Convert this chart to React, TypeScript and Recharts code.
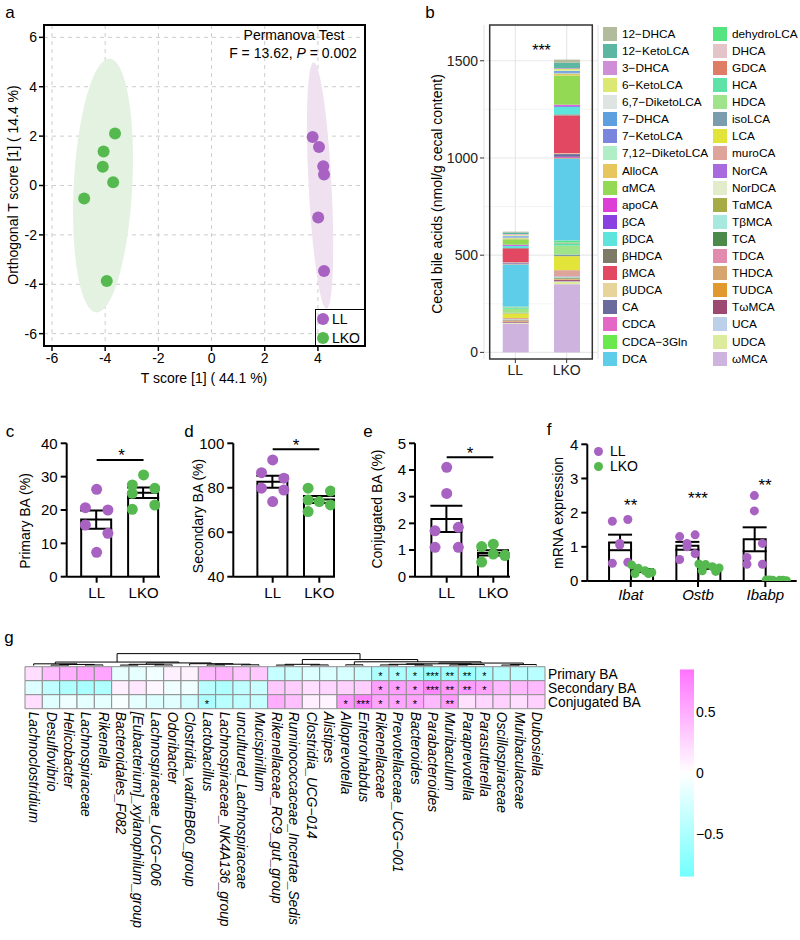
import React from "react";
import {
  Bar,
  BarChart,
  CartesianGrid,
  ComposedChart,
  ErrorBar,
  ReferenceArea,
  ReferenceLine,
  Scatter,
  ScatterChart,
  XAxis,
  YAxis,
} from "recharts";

const FONT = "Arial, 'Liberation Sans', Helvetica, sans-serif";
const LL_COLOR = "#a862c1";
const LKO_COLOR = "#55b94f";

const groups = ["LL", "LKO"];

// a: OPLS-DA scores
const llTScore = [3.8, 4.04, 4.2, 4.23, 4.01, 4.23];
const llOrthoScore = [1.96, 1.56, 0.78, 0.45, -1.3, -3.46];
const lkoTScore = [-3.63, -4.06, -4.09, -3.7, -4.79, -3.94];
const lkoOrthoScore = [2.11, 1.38, 0.76, 0.13, -0.53, -3.87];
const ellipseCenterT = [4.08, -4.08];
const ellipseCenterO = [0, 0];
const ellipseHalfT = [0.43, 1.1];
const ellipseHalfO = [5.0, 5.15];
const ellipseTilt = [-3, 3];
const ellipseFill = ["#efe1f0", "#e4f2e1"];
const scoreTTicks = [-6, -4, -2, 0, 2, 4];
const scoreOTicks = [-6, -4, -2, 0, 2, 4, 6];

// b: cecal bile acids (legend order)
const bileAcids = [
  "12-DHCA", "12-KetoLCA", "3-DHCA", "6-KetoLCA", "6,7-DiketoLCA", "7-DHCA", "7-KetoLCA",
  "7,12-DiketoLCA", "AlloCA", "αMCA", "apoCA", "βCA", "βDCA", "βHDCA", "βMCA", "βUDCA", "CA",
  "CDCA", "CDCA-3Gln", "DCA", "dehydroLCA", "DHCA", "GDCA", "HCA", "HDCA", "isoLCA", "LCA",
  "muroCA", "NorCA", "NorDCA", "TαMCA", "TβMCA", "TCA", "TDCA", "THDCA", "TUDCA", "TωMCA",
  "UCA", "UDCA", "ωMCA",
];
const baColors = [
  "#b2bb9b", "#5bb7a1", "#cf8fd6", "#dbe871", "#dde4e1", "#5e9fe0", "#7a86de", "#afeec7",
  "#e7c65d", "#93d954", "#dd3fd6", "#8a3fe0", "#5de5dd", "#7d7b67", "#e24862", "#e6d49a",
  "#6b6a9c", "#e466c5", "#69e94b", "#5ecde9", "#55e47f", "#e2c4c9", "#de7c66", "#5fe2a7",
  "#9fe38b", "#7b9cac", "#e3e43a", "#dea39b", "#a96ae0", "#e2ecca", "#a7ab45", "#a7e9df",
  "#4b8a4a", "#e18cae", "#d6a46f", "#e0982f", "#9c4a72", "#bcd0ea", "#dcec9c", "#cdb3dd",
];
const llBileAcids = [
  4, 8, 3, 5, 3, 4, 3, 4, 5, 28, 4, 3, 10, 3, 70, 2, 5, 4, 2, 215,
  4, 1, 1, 6, 20, 3, 24, 5, 1, 1, 1, 2, 2, 2, 3, 2, 5, 2, 3, 148,
];
const lkoBileAcids = [
  16, 28, 4, 8, 3, 6, 5, 4, 8, 150, 5, 5, 40, 5, 195, 4, 14, 8, 3, 420,
  10, 2, 2, 12, 46, 8, 72, 30, 2, 2, 2, 3, 4, 2, 3, 3, 6, 3, 12, 351,
];

// c-e: bile acid proportions (%)
const primaryLL = [26.2, 20.7, 20.0, 15.5, 13.0, 7.3];
const primaryLKO = [30.5, 27.5, 26.5, 25.0, 20.2, 21.5];
const primaryJitterLL = [0, -0.24, 0.24, -0.24, 0.24, 0];
const primaryJitterLKO = [0, -0.24, 0.24, -0.24, -0.24, 0.24];
const secondaryLL = [92.5, 86.8, 84.3, 79.8, 79.0, 73.8];
const secondaryLKO = [79.8, 78.5, 74.5, 73.8, 72.3, 69.3];
const secondaryJitterLL = [0, -0.24, 0.24, -0.24, 0.24, 0];
const secondaryJitterLKO = [-0.24, 0.24, -0.24, 0, 0.24, -0.24];
const conjugatedLL = [4.1, 3.12, 1.85, 1.72, 1.1, 1.1];
const conjugatedLKO = [1.22, 1.13, 0.85, 0.8, 0.55, 0.8];
const conjugatedJitterLL = [0, 0, 0.25, -0.25, -0.25, 0.25];
const conjugatedJitterLKO = [0, -0.25, 0, 0.25, -0.25, 0.25];

// f: mRNA expression
const genes = ["Ibat", "Ostb", "Ibabp"];
const ibatLL = [1.75, 1.8, 0.52, 0.55, 1.05, 1.1];
const ibatLKO = [0.47, 0.37, 0.3, 0.25, 0.22, 0.22];
const ostbLL = [1.3, 1.35, 0.63, 0.8, 1.1, 1.0];
const ostbLKO = [0.5, 0.48, 0.42, 0.38, 0.3, 0.28];
const ibabpLL = [0.69, 1.1, 0.49, 0.49, 2.5, 2.05];
const ibabpLKO = [0.03, 0.02, 0.02, 0.01, 0.03, 0.02];
const mrnaJitterLL = [-0.11, 0.12, -0.11, 0.12, 0, 0];
const mrnaJitterLKO = [-0.15, -0.05, 0.05, 0.15, -0.1, 0.1];
const mrnaStars = ["**", "***", "**"];

// g: correlation heatmap
const genera = [
  "Lachnoclostridium", "Desulfovibrio", "Helicobacter", "Lachnospiraceae", "Rikenella",
  "Bacteroidales_F082", "[Eubacterium]_xylanophilum_group", "Lachnospiraceae_UCG−006",
  "Odoribacter", "Clostridia_vadinBB60_group", "Lactobacillus", "Lachnospiraceae_NK4A136_group",
  "uncultured_Lachnospiraceae", "Mucispirillum", "Rikenellaceae_RC9_gut_group",
  "Ruminococcaceae_Incertae_Sedis", "Clostridia_UCG−014", "Alistipes", "Alloprevotella",
  "Enterorhabdus", "Rikenellaceae", "Prevotellaceae_UCG−001", "Bacteroides", "Parabacteroides",
  "Muribaculum", "Paraprevotella", "Parasutterella", "Oscillospiraceae", "Muribaculaceae",
  "Dubosiella",
];
const baTypes = ["Primary BA", "Secondary BA", "Conjugated BA"];
const primaryCorr = [
  0.2, 0.4, 0.48, 0.55, 0.55, -0.14, -0.15, -0.08, 0.09, 0.08, 0.42, 0.46, 0.35, 0.33, -0.35,
  -0.3, -0.2, -0.22, -0.25, -0.3, -0.5, -0.5, -0.52, -0.68, -0.6, -0.6, -0.52, -0.45, -0.42, -0.42,
];
const secondaryCorr = [
  -0.2, -0.38, -0.48, -0.52, -0.48, 0.1, 0.14, 0.05, -0.1, -0.1, -0.42, -0.48, -0.38, -0.33, 0.33,
  0.3, 0.2, 0.25, 0.28, 0.3, 0.58, 0.58, 0.58, 0.72, 0.62, 0.6, 0.55, 0.42, 0.42, 0.42,
];
const conjugatedCorr = [
  0.2, -0.18, -0.1, -0.15, -0.15, -0.04, -0.15, -0.2, -0.18, -0.28, -0.5, -0.42, -0.38, -0.35, 0.5,
  0.38, 0.1, 0.07, 0.62, 0.75, 0.55, 0.55, 0.55, 0.42, 0.6, 0.18, 0.25, 0.28, 0.2, 0.28,
];
const primaryStars = [
  "", "", "", "", "", "", "", "", "", "", "", "", "", "", "", "", "", "", "", "",
  "*", "*", "*", "***", "**", "**", "*", "", "", "",
];
const secondaryStars = primaryStars;
const conjugatedStars = [
  "", "", "", "", "", "", "", "", "", "", "*", "", "", "", "", "", "", "", "*", "***",
  "*", "*", "*", "", "**", "", "", "", "", "",
];
// column dendrogram, hclust style: < 30 is a column, >= 30 is merge (n - 30)
const mergeA = [1, 3, 30, 0, 5, 7, 34, 10, 12, 37, 9, 36, 33, 14, 16, 43, 18, 20, 22, 47, 24, 50, 49, 27, 53, 52, 46, 45, 42];
const mergeB = [2, 4, 31, 32, 6, 8, 35, 11, 13, 38, 39, 40, 41, 15, 17, 44, 19, 21, 23, 48, 25, 26, 51, 28, 29, 54, 55, 56, 57];
const mergeHeight = [
  0.04, 0.05, 0.09, 0.14, 0.04, 0.05, 0.1, 0.05, 0.06, 0.11, 0.15, 0.21, 0.28, 0.04, 0.05,
  0.1, 0.06, 0.05, 0.04, 0.1, 0.05, 0.08, 0.14, 0.04, 0.08, 0.2, 0.3, 0.48, 0.95,
];
const colorLimits = [-0.85, 0.85];

function mean(v: number[]) {
  return v.reduce((s, x) => s + x, 0) / v.length;
}
function sem(v: number[]) {
  const m = mean(v);
  const sd = Math.sqrt(v.reduce((s, x) => s + (x - m) ** 2, 0) / (v.length - 1));
  return sd / Math.sqrt(v.length);
}

function corrColor(v: number) {
  const t = Math.min(1, Math.abs(v) / colorLimits[1]);
  const end = v >= 0 ? [255, 115, 255] : [115, 255, 255];
  const c = end.map((e) => Math.round(255 + (e - 255) * t));
  return `rgb(${c[0]},${c[1]},${c[2]})`;
}

const dotShape = (color: string, r: number) => (props: any) =>
  <circle cx={props.cx} cy={props.cy} r={r} fill={color} />;

function Txt({ x, y, size = 14, anchor = "middle", rotate = 0, italic = false, children }: any) {
  const tx = anchor === "middle" ? "-50%" : anchor === "end" ? "-100%" : "0%";
  return (
    <div
      style={{
        position: "absolute",
        left: x,
        top: y,
        transform: `translate(${tx}, -50%) rotate(${rotate}deg)`,
        fontSize: size,
        lineHeight: 1,
        whiteSpace: "nowrap",
        fontStyle: italic ? "italic" : "normal",
      }}
    >
      {children}
    </div>
  );
}

// asterisk glyph sits high in the line box, so shift down a bit
function Stars({ x, y, size = 17, children }: any) {
  return <Txt x={x} y={y + 0.22 * size} size={size}>{children}</Txt>;
}

const AXIS = { stroke: "#000", strokeWidth: 2 };
const TICK15 = { fontSize: 15, fill: "#000" };

function ScorePlot() {
  const ll = llTScore.map((t, i) => ({ t, o: llOrthoScore[i] }));
  const lko = lkoTScore.map((t, i) => ({ t, o: lkoOrthoScore[i] }));
  const tDomain = [-6.3, 5.77];
  const oDomain = [-6.5, 6.5];
  const tick = { fontSize: 14, fill: "#000" };
  return (
    <ScatterChart width={370} height={395} margin={{ top: 25, right: 5, bottom: 0, left: 0 }}>
      <CartesianGrid stroke="#cdcdcd" strokeDasharray="4 4" />
      {ellipseCenterT.map((c, i) => (
        <ReferenceArea
          key={i}
          x1={c - ellipseHalfT[i]}
          x2={c + ellipseHalfT[i]}
          y1={ellipseCenterO[i] - ellipseHalfO[i]}
          y2={ellipseCenterO[i] + ellipseHalfO[i]}
          ifOverflow="visible"
          shape={(p: any) => {
            const cx = p.x + p.width / 2;
            const cy = p.y + p.height / 2;
            return (
              <ellipse
                cx={cx}
                cy={cy}
                rx={Math.abs(p.width) / 2}
                ry={Math.abs(p.height) / 2}
                fill={ellipseFill[i]}
                transform={`rotate(${ellipseTilt[i]} ${cx} ${cy})`}
              />
            );
          }}
        />
      ))}
      <XAxis
        type="number"
        dataKey="t"
        domain={tDomain}
        allowDataOverflow
        ticks={scoreTTicks}
        interval={0}
        height={49}
        axisLine={false}
        tickLine={{ stroke: "#000", strokeWidth: 1.5 }}
        tickSize={5}
        tick={tick}
      />
      <YAxis
        type="number"
        dataKey="o"
        domain={oDomain}
        allowDataOverflow
        ticks={scoreOTicks}
        interval={0}
        width={44}
        axisLine={false}
        tickLine={{ stroke: "#000", strokeWidth: 1.5 }}
        tickSize={5}
        tick={tick}
      />
      <Scatter data={lko} isAnimationActive={false} shape={dotShape(LKO_COLOR, 6)} />
      <Scatter data={ll} isAnimationActive={false} shape={dotShape(LL_COLOR, 6)} />
      <ReferenceArea
        x1={tDomain[0]}
        x2={tDomain[1]}
        y1={oDomain[0]}
        y2={oDomain[1]}
        fill="none"
        stroke="#000"
        strokeWidth={2}
        ifOverflow="visible"
      />
    </ScatterChart>
  );
}

function BileAcidBars() {
  const data = groups.map((g, gi) => {
    const row: any = { group: g };
    const vals = gi === 0 ? llBileAcids : lkoBileAcids;
    bileAcids.forEach((_, i) => {
      row[`ba${i}`] = vals[i];
    });
    return row;
  });
  const stackOrder = bileAcids.map((_, i) => i).reverse();
  const yDomain = [-34, 1684];
  return (
    <BarChart width={200} height={390} data={data} margin={{ top: 25, right: 2, bottom: 0, left: 0 }} barSize={26}>
      <CartesianGrid stroke="#efefef" strokeWidth={0.7} horizontalValues={[250, 750, 1250]} vertical={false} />
      <CartesianGrid stroke="#e8e8e8" strokeWidth={1.2} horizontalValues={[0, 500, 1000, 1500]} />
      <XAxis
        dataKey="group"
        padding={{ left: 5.7, right: 5.7 }}
        height={31}
        axisLine={false}
        tickLine={{ stroke: "#333" }}
        tickSize={4}
        interval={0}
        tick={{ fontSize: 14, fill: "#222" }}
      />
      <YAxis
        domain={yDomain}
        allowDataOverflow
        ticks={[0, 500, 1000, 1500]}
        interval={0}
        width={84}
        axisLine={false}
        tickLine={{ stroke: "#333" }}
        tickSize={4}
        tick={{ fontSize: 14, fill: "#222" }}
      />
      {stackOrder.map((i) => (
        <Bar key={i} dataKey={`ba${i}`} stackId="s" fill={baColors[i]} isAnimationActive={false} />
      ))}
      <ReferenceArea y1={yDomain[0]} y2={yDomain[1]} fill="none" stroke="#333" strokeWidth={1.5} ifOverflow="visible" />
    </BarChart>
  );
}

function BileAcidLegend() {
  return (
    <>
      {bileAcids.map((name, i) => {
        const col = i < 20 ? 0 : 1;
        const row = i % 20;
        return (
          <div
            key={name}
            style={{
              position: "absolute",
              left: col ? 713 : 603,
              top: 26.7 + row * 17.1,
              height: 14,
              display: "flex",
              alignItems: "center",
            }}
          >
            <div style={{ width: 14, height: 14, background: baColors[i] }} />
            <span style={{ marginLeft: 5, fontSize: 11.8, whiteSpace: "nowrap" }}>
              {name.replace(/-/g, "−")}
            </span>
          </div>
        );
      })}
    </>
  );
}

type PercentProps = {
  width: number;
  axisWidth: number;
  rightPad: number;
  xDomain: number[];
  yDomain: number[];
  yTicks: number[];
  llVals: number[];
  lkoVals: number[];
  llJitter: number[];
  lkoJitter: number[];
  sigY: number;
};

function PercentPanel(p: PercentProps) {
  const bars = [
    { x: 1, mean: mean(p.llVals), sem: sem(p.llVals) },
    { x: 2, mean: mean(p.lkoVals), sem: sem(p.lkoVals) },
  ];
  const llDots = p.llVals.map((v, i) => ({ x: 1 + p.llJitter[i], y: v }));
  const lkoDots = p.lkoVals.map((v, i) => ({ x: 2 + p.lkoJitter[i], y: v }));
  return (
    <ComposedChart width={p.width} height={210} data={bars} margin={{ top: 43.3, right: p.rightPad, bottom: 0, left: 0 }}>
      <XAxis
        type="number"
        dataKey="x"
        domain={p.xDomain}
        allowDataOverflow
        ticks={[1, 2]}
        interval={0}
        tickFormatter={(v) => groups[Math.round(v) - 1]}
        height={33.3}
        axisLine={AXIS}
        tickLine={AXIS}
        tickSize={6}
        tickMargin={5}
        tick={TICK15}
      />
      <XAxis xAxisId="dots" type="number" dataKey="x" domain={p.xDomain} allowDataOverflow hide />
      <YAxis
        type="number"
        domain={p.yDomain}
        allowDataOverflow
        ticks={p.yTicks}
        interval={0}
        width={p.axisWidth}
        axisLine={AXIS}
        tickLine={AXIS}
        tickSize={6}
        tickMargin={3}
        tick={TICK15}
      />
      <Bar dataKey="mean" fill="#fff" stroke="#000" strokeWidth={2} barSize={30} isAnimationActive={false}>
        <ErrorBar dataKey="sem" width={16} stroke="#000" strokeWidth={2} />
      </Bar>
      <Scatter xAxisId="dots" data={llDots} dataKey="y" isAnimationActive={false} shape={dotShape(LL_COLOR, 5.5)} />
      <Scatter xAxisId="dots" data={lkoDots} dataKey="y" isAnimationActive={false} shape={dotShape(LKO_COLOR, 5.5)} />
      <ReferenceLine segment={[{ x: 1, y: p.sigY }, { x: 2, y: p.sigY }]} stroke="#000" strokeWidth={2} />
    </ComposedChart>
  );
}

const DODGE = 0.163;

function MrnaPanel() {
  const sets = [
    [ibatLL, ibatLKO],
    [ostbLL, ostbLKO],
    [ibabpLL, ibabpLKO],
  ];
  const bars = genes.map((g, i) => ({
    x: i + 1,
    ll: mean(sets[i][0]),
    llSem: sem(sets[i][0]),
    lko: mean(sets[i][1]),
    lkoSem: sem(sets[i][1]),
  }));
  const llDots = sets.flatMap(([ll], i) => ll.map((v, j) => ({ x: i + 1 - DODGE + mrnaJitterLL[j], y: v })));
  const lkoDots = sets.flatMap(([, lko], i) => lko.map((v, j) => ({ x: i + 1 + DODGE + mrnaJitterLKO[j], y: v })));
  const xDomain = [0.355, 3.466];
  return (
    <ComposedChart width={260} height={210} data={bars} barGap={0} margin={{ top: 44.3, right: 3.3, bottom: 0, left: 0 }}>
      <XAxis
        type="number"
        dataKey="x"
        domain={xDomain}
        allowDataOverflow
        ticks={[1, 2, 3]}
        interval={0}
        tickFormatter={(v) => genes[Math.round(v) - 1]}
        height={29}
        axisLine={AXIS}
        tickLine={AXIS}
        tickSize={6}
        tickMargin={2}
        tick={{ ...TICK15, fontStyle: "italic" }}
      />
      <XAxis xAxisId="dots" type="number" dataKey="x" domain={xDomain} allowDataOverflow hide />
      <YAxis
        type="number"
        domain={[0, 4]}
        allowDataOverflow
        ticks={[0, 1, 2, 3, 4]}
        interval={0}
        width={47.3}
        axisLine={AXIS}
        tickLine={AXIS}
        tickSize={6}
        tickMargin={3}
        tick={TICK15}
      />
      <Bar dataKey="ll" fill="#fff" stroke="#000" strokeWidth={2} barSize={22} isAnimationActive={false}>
        <ErrorBar dataKey="llSem" width={12} stroke="#000" strokeWidth={2} />
      </Bar>
      <Bar dataKey="lko" fill="#fff" stroke="#000" strokeWidth={2} barSize={22} isAnimationActive={false}>
        <ErrorBar dataKey="lkoSem" width={12} stroke="#000" strokeWidth={2} />
      </Bar>
      <Scatter xAxisId="dots" data={llDots} dataKey="y" isAnimationActive={false} shape={dotShape(LL_COLOR, 4.5)} />
      <Scatter xAxisId="dots" data={lkoDots} dataKey="y" isAnimationActive={false} shape={dotShape(LKO_COLOR, 4.5)} />
    </ComposedChart>
  );
}

function GenusTick(props: any) {
  const { x, y, payload } = props;
  const name = genera[Math.round(payload.value - 0.5)];
  const ty = y + 3;
  return (
    <text
      x={x}
      y={ty}
      transform={`rotate(90 ${x} ${ty})`}
      textAnchor="start"
      dominantBaseline="central"
      fontSize={13.8}
      fontStyle="italic"
      fill="#000"
    >
      {name}
    </text>
  );
}

function Heatmap() {
  const rows = [primaryCorr, secondaryCorr, conjugatedCorr];
  const starRows = [primaryStars, secondaryStars, conjugatedStars];
  const cells: { x: number; y: number; v: number }[] = [];
  const marks: { x: number; y: number; s: string }[] = [];
  rows.forEach((vals, r) => {
    const yb = 2 - r;
    vals.forEach((v, c) => {
      cells.push({ x: c, y: yb, v });
      if (starRows[r][c]) marks.push({ x: c + 0.5, y: yb + 0.5, s: starRows[r][c] });
    });
  });

  // dendrogram node positions
  const mergeX: number[] = [];
  const nodeX = (n: number) => (n < 30 ? n + 0.5 : mergeX[n - 30]);
  const nodeH = (n: number) => (n < 30 ? 0 : mergeHeight[n - 30]);
  mergeA.forEach((a, m) => {
    mergeX[m] = (nodeX(a) + nodeX(mergeB[m])) / 2;
  });
  const base = 3.08;
  const hy = (h: number) => base + h * 0.9;
  const segs: { x1: number; y1: number; x2: number; y2: number }[] = [];
  mergeA.forEach((a, m) => {
    const b = mergeB[m];
    const top = hy(mergeHeight[m]);
    segs.push({ x1: nodeX(a), y1: hy(nodeH(a)), x2: nodeX(a), y2: top });
    segs.push({ x1: nodeX(b), y1: hy(nodeH(b)), x2: nodeX(b), y2: top });
    segs.push({ x1: nodeX(a), y1: top, x2: nodeX(b), y2: top });
  });

  return (
    <ScatterChart width={800} height={340} margin={{ top: 51.3, right: 115, bottom: 0, left: 25 }}>
      <XAxis
        type="number"
        dataKey="x"
        domain={[0, 30]}
        allowDataOverflow
        ticks={genera.map((_, i) => i + 0.5)}
        interval={0}
        height={231.3}
        axisLine={false}
        tickLine={false}
        tickSize={0}
        tickMargin={0}
        tick={(p: any) => <GenusTick {...p} />}
      />
      <YAxis
        type="number"
        dataKey="y"
        orientation="right"
        domain={[0, 4.1]}
        allowDataOverflow
        ticks={[0.5, 1.5, 2.5]}
        interval={0}
        tickFormatter={(v) => baTypes[2 - Math.round(v - 0.5)]}
        width={140}
        axisLine={false}
        tickLine={false}
        tickSize={0}
        tickMargin={3}
        tick={{ fontSize: 13.8, fill: "#000" }}
      />
      {cells.map((c, i) => (
        <ReferenceArea
          key={`c${i}`}
          x1={c.x}
          x2={c.x + 1}
          y1={c.y}
          y2={c.y + 1}
          fill={corrColor(c.v)}
          fillOpacity={1}
          stroke="#8f8f8f"
          strokeWidth={1}
          ifOverflow="visible"
        />
      ))}
      {segs.map((s, i) => (
        <ReferenceLine
          key={`d${i}`}
          segment={[
            { x: s.x1, y: s.y1 },
            { x: s.x2, y: s.y2 },
          ]}
          stroke="#000"
          strokeWidth={1}
          ifOverflow="visible"
        />
      ))}
      <Scatter
        data={marks}
        isAnimationActive={false}
        shape={(p: any) => (
          <text x={p.cx} y={p.cy} dy="0.55em" textAnchor="middle" fontSize={11} fill="#000">
            {p.payload.s}
          </text>
        )}
      />
    </ScatterChart>
  );
}

function ColorBar() {
  const data = [{ k: "r", v: colorLimits }];
  return (
    <BarChart width={80} height={230} data={data} barCategoryGap={0} margin={{ top: 9.3, right: 6, bottom: 13.3, left: 10 }}>
      <defs>
        <linearGradient id="corrGrad" x1="0" y1="0" x2="0" y2="1">
          <stop offset="0%" stopColor={corrColor(colorLimits[1])} />
          <stop offset="50%" stopColor="#ffffff" />
          <stop offset="100%" stopColor={corrColor(colorLimits[0])} />
        </linearGradient>
      </defs>
      <XAxis dataKey="k" hide />
      <YAxis
        orientation="right"
        domain={colorLimits}
        allowDataOverflow
        ticks={[-0.5, 0, 0.5]}
        interval={0}
        tickFormatter={(v) => (v < 0 ? `−${Math.abs(v)}` : String(v))}
        width={50}
        axisLine={false}
        tickLine={false}
        tickSize={0}
        tickMargin={2}
        tick={{ fontSize: 14, fill: "#000" }}
      />
      <Bar dataKey="v" fill="url(#corrGrad)" isAnimationActive={false} />
    </BarChart>
  );
}

export default function App() {
  return (
    <div
      style={{
        position: "absolute",
        left: 0,
        top: 0,
        width: 800,
        height: 940,
        background: "#fff",
        fontFamily: FONT,
        color: "#000",
        overflow: "hidden",
      }}
    >
      {/* a */}
      <div style={{ position: "absolute", left: 0, top: 0 }}>
        <ScorePlot />
      </div>
      <Txt x={10} y={12} size={17}>a</Txt>
      <Txt x={294} y={35} size={14}>Permanova Test</Txt>
      <Txt x={293} y={53} size={14}>
        F = 13.62, <i>P</i> = 0.002
      </Txt>
      <Txt x={204} y={378} size={14}>T score [1] ( 44.1 %)</Txt>
      <Txt x={13} y={185} size={14} rotate={-90}>Orthogonal T score [1] ( 14.4 %)</Txt>
      <div
        style={{
          position: "absolute",
          left: 315,
          top: 309,
          width: 50,
          height: 37,
          borderLeft: "1.5px solid #000",
          borderTop: "1.5px solid #000",
          boxSizing: "border-box",
        }}
      />
      {groups.map((g, i) => (
        <div key={g} style={{ position: "absolute", left: 317, top: 312 + i * 19, display: "flex", alignItems: "center", height: 14 }}>
          <div style={{ width: 12, height: 12, borderRadius: 6, background: i === 0 ? LL_COLOR : LKO_COLOR }} />
          <span style={{ marginLeft: 3, fontSize: 14 }}>{g}</span>
        </div>
      ))}

      {/* b */}
      <div style={{ position: "absolute", left: 400, top: 0 }}>
        <BileAcidBars />
      </div>
      <Txt x={430} y={12} size={17}>b</Txt>
      <Txt x={437} y={194} size={14} rotate={-90}>Cecal bile acids (nmol/g cecal content)</Txt>
      <Stars x={541.5} y={47} size={16}>***</Stars>
      <BileAcidLegend />

      {/* c */}
      <div style={{ position: "absolute", left: 0, top: 400 }}>
        <PercentPanel
          width={170}
          axisWidth={66.7}
          rightPad={10}
          xDomain={[0.362, 2.35]}
          yDomain={[0, 40]}
          yTicks={[0, 10, 20, 30, 40]}
          llVals={primaryLL}
          lkoVals={primaryLKO}
          llJitter={primaryJitterLL}
          lkoJitter={primaryJitterLKO}
          sigY={35}
        />
      </div>
      <Txt x={10} y={431} size={17}>c</Txt>
      <Txt x={25} y={521} size={14} rotate={-90}>Primary BA (%)</Txt>
      <Stars x={121.5} y={451} size={17}>*</Stars>

      {/* d */}
      <div style={{ position: "absolute", left: 170, top: 400 }}>
        <PercentPanel
          width={170}
          axisWidth={63.3}
          rightPad={5}
          xDomain={[0.155, 2.337]}
          yDomain={[40, 100]}
          yTicks={[40, 60, 80, 100]}
          llVals={secondaryLL}
          lkoVals={secondaryLKO}
          llJitter={secondaryJitterLL}
          lkoJitter={secondaryJitterLKO}
          sigY={97.3}
        />
      </div>
      <Txt x={189} y={431} size={17}>d</Txt>
      <Txt x={198} y={516} size={14} rotate={-90}>Secondary BA (%)</Txt>
      <Stars x={296} y={441} size={17}>*</Stars>

      {/* e */}
      <div style={{ position: "absolute", left: 340, top: 400 }}>
        <PercentPanel
          width={175}
          axisWidth={75}
          rightPad={5}
          xDomain={[0.32, 2.358]}
          yDomain={[0, 5]}
          yTicks={[0, 1, 2, 3, 4, 5]}
          llVals={conjugatedLL}
          lkoVals={conjugatedLKO}
          llJitter={conjugatedJitterLL}
          lkoJitter={conjugatedJitterLKO}
          sigY={4.475}
        />
      </div>
      <Txt x={368} y={431} size={17}>e</Txt>
      <Txt x={377} y={509} size={14} rotate={-90}>Conjugated BA (%)</Txt>
      <Stars x={470} y={449} size={17}>*</Stars>

      {/* f */}
      <div style={{ position: "absolute", left: 540, top: 400 }}>
        <MrnaPanel />
      </div>
      <Txt x={549} y={429} size={17}>f</Txt>
      <Txt x={558} y={513} size={14} rotate={-90}>mRNA expression</Txt>
      {groups.map((g, i) => (
        <div key={g} style={{ position: "absolute", left: 594, top: 444 + i * 15, display: "flex", alignItems: "center", height: 14 }}>
          <div style={{ width: 9, height: 9, borderRadius: 5, background: i === 0 ? LL_COLOR : LKO_COLOR }} />
          <span style={{ marginLeft: 7, fontSize: 14, lineHeight: "14px" }}>{g}</span>
        </div>
      ))}
      <Stars x={630.7} y={501.7} size={17}>{mrnaStars[0]}</Stars>
      <Stars x={698} y={494} size={17}>{mrnaStars[1]}</Stars>
      <Stars x={765} y={481.7} size={17}>{mrnaStars[2]}</Stars>

      {/* g */}
      <div style={{ position: "absolute", left: 0, top: 600 }}>
        <Heatmap />
      </div>
      <Txt x={9} y={637} size={17}>g</Txt>
      <div style={{ position: "absolute", left: 670, top: 660 }}>
        <ColorBar />
      </div>
    </div>
  );
}
